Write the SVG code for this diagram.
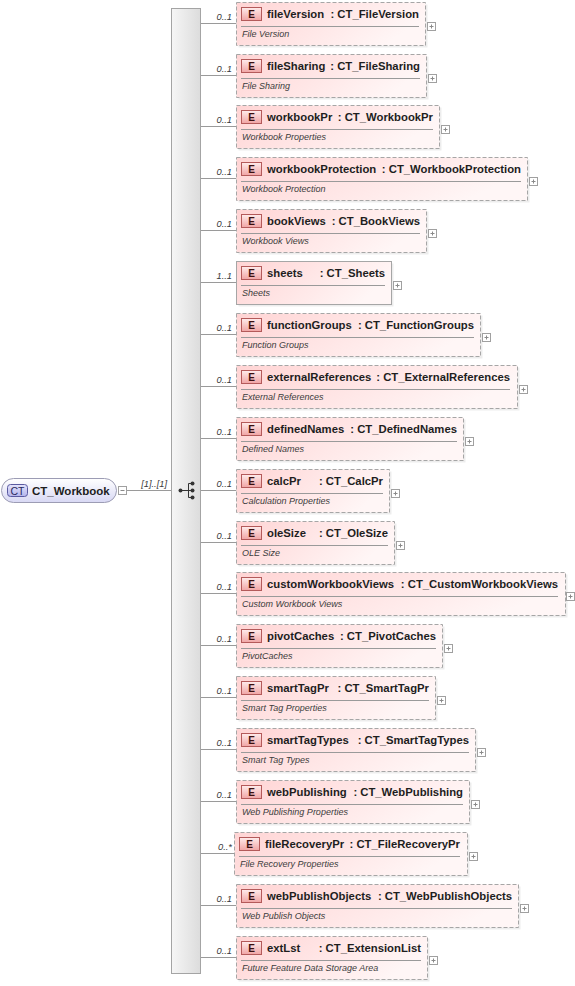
<svg xmlns="http://www.w3.org/2000/svg" width="575" height="986" viewBox="0 0 575 986">
<style>
text{font-family:"Liberation Sans",Arial,sans-serif}
.box{fill:url(#pk);stroke:#a6a6a6;stroke-width:1;stroke-dasharray:4 2}
.req{stroke-dasharray:none}
.sh{fill:#000;opacity:.07}
.badge{fill:url(#bg);stroke:#b45a5a;stroke-width:1}
.bE{font-size:10px;font-weight:bold;fill:#3a1010;text-anchor:middle}
.ttl{font-size:11.3px;font-weight:bold;fill:#1e1e1e}
.ty{text-anchor:end}
.sep{stroke:#9a9a9a;stroke-width:1}
.dsc{font-size:9px;font-style:italic;fill:#3c3c3c}
.pb{fill:#fff;stroke:#a0a0a0;stroke-width:1}
.pl{stroke:#8a8a8a;stroke-width:1;fill:none}
.con{stroke:#9a9a9a;stroke-width:1;fill:none}
.card{font-size:9.3px;font-style:italic;fill:#3a3a3a;text-anchor:end}
</style>
<defs>
<linearGradient id="pk" x1="0" y1="0" x2="1" y2="0.3">
<stop offset="0" stop-color="#ffd4d4"/>
<stop offset="1" stop-color="#fff6f6"/>
</linearGradient>
<linearGradient id="bg" x1="0" y1="0" x2="0" y2="1">
<stop offset="0" stop-color="#ffecec"/>
<stop offset="1" stop-color="#f0a4a4"/>
</linearGradient>
<linearGradient id="bar" x1="0" y1="0" x2="1" y2="0">
<stop offset="0" stop-color="#f6f6f6"/>
<stop offset="1" stop-color="#dcdcdc"/>
</linearGradient>
<linearGradient id="ctg" x1="0" y1="0" x2="0" y2="1">
<stop offset="0" stop-color="#ffffff"/>
<stop offset="1" stop-color="#d8d8f4"/>
</linearGradient>
<linearGradient id="ctb" x1="0" y1="0" x2="0" y2="1">
<stop offset="0" stop-color="#e4e4fc"/>
<stop offset="1" stop-color="#b4b4ec"/>
</linearGradient>
</defs>

<g id="connectors">
<line class="con" x1="126.5" y1="490.5" x2="171.5" y2="490.5"/>
<text class="card" x="167" y="487">[1]..[1]</text>
<path class="con" d="M200.5 23.5H236.5M200.5 75.5H236.5M200.5 126.5H236.5M200.5 178.5H236.5M200.5 230.5H236.5M200.5 282.5H236.5M200.5 334.5H236.5M200.5 386.5H236.5M200.5 438.5H236.5M200.5 490.5H236.5M200.5 542.5H236.5M200.5 593.5H236.5M200.5 645.5H236.5M200.5 697.5H236.5M200.5 749.5H236.5M200.5 801.5H236.5M200.5 853.5H234.5M200.5 905.5H236.5M200.5 957.5H236.5"/>
<text class="card" x="232" y="20">0..1</text>
<text class="card" x="232" y="72">0..1</text>
<text class="card" x="232" y="123">0..1</text>
<text class="card" x="232" y="175">0..1</text>
<text class="card" x="232" y="227">0..1</text>
<text class="card" x="232" y="279">1..1</text>
<text class="card" x="232" y="331">0..1</text>
<text class="card" x="232" y="383">0..1</text>
<text class="card" x="232" y="435">0..1</text>
<text class="card" x="232" y="487">0..1</text>
<text class="card" x="232" y="539">0..1</text>
<text class="card" x="232" y="590">0..1</text>
<text class="card" x="232" y="642">0..1</text>
<text class="card" x="232" y="694">0..1</text>
<text class="card" x="232" y="746">0..1</text>
<text class="card" x="232" y="798">0..1</text>
<text class="card" x="232" y="850">0..*</text>
<text class="card" x="232" y="902">0..1</text>
<text class="card" x="232" y="954">0..1</text>
</g>

<g id="n-CT_Workbook">
<rect x="1.5" y="478.5" width="115" height="24" rx="12" ry="12" fill="url(#ctg)" stroke="#9c9cb4" stroke-width="1"/>
<rect x="7.5" y="484.5" width="20" height="12" rx="3" ry="3" fill="url(#ctb)" stroke="#5a5aa0" stroke-width="1"/>
<text x="17.5" y="494.5" font-size="10.5" fill="#2a2a60" text-anchor="middle">CT</text>
<text x="32" y="495" font-size="11.5" font-weight="bold" fill="#1e1e1e">CT_Workbook</text>
<rect class="pb" x="118.5" y="486.5" width="8" height="8"/>
<path class="pl" d="M120.5 490.5h4"/>
</g>

<g id="sequence">
<rect x="171.5" y="8.5" width="29" height="965" fill="url(#bar)" stroke="#a4a4a4" stroke-width="1"/>
<path d="M180.5 490.5H188.5M188.5 483.5V497.5M188.5 483.5H192.5M188.5 490.5H192.5M188.5 497.5H192.5" stroke="#333" stroke-width="1" fill="none"/>
<circle cx="180.5" cy="490.5" r="2" fill="#333"/>
<circle cx="192.5" cy="483.5" r="2" fill="#333"/>
<circle cx="192.5" cy="490.5" r="2" fill="#333"/>
<circle cx="192.5" cy="497.5" r="2" fill="#333"/>
</g>

<g id="n-fileVersion" transform="translate(0,23.5)">
<rect class="sh" x="238.5" y="-19" width="189" height="43"/>
<rect class="box" x="236.5" y="-21" width="189" height="43"/>
<rect class="badge" x="241.5" y="-16" width="20" height="13"/>
<text class="bE" x="251.5" y="-5.5">E</text>
<text class="ttl" x="267" y="-6">fileVersion</text>
<text class="ttl ty" x="419" y="-6">: CT_FileVersion</text>
<line class="sep" x1="241" y1="3" x2="419" y2="3"/>
<text class="dsc" x="242" y="13">File Version</text>
<rect class="pb" x="427.5" y="-1" width="8" height="8"/>
<path class="pl" d="M429.5 3h4M431.5 1v4"/>
</g>

<g id="n-fileSharing" transform="translate(0,75.5)">
<rect class="sh" x="238.5" y="-19" width="190" height="43"/>
<rect class="box" x="236.5" y="-21" width="190" height="43"/>
<rect class="badge" x="241.5" y="-16" width="20" height="13"/>
<text class="bE" x="251.5" y="-5.5">E</text>
<text class="ttl" x="267" y="-6">fileSharing</text>
<text class="ttl ty" x="420" y="-6">: CT_FileSharing</text>
<line class="sep" x1="241" y1="3" x2="420" y2="3"/>
<text class="dsc" x="242" y="13">File Sharing</text>
<rect class="pb" x="428.5" y="-1" width="8" height="8"/>
<path class="pl" d="M430.5 3h4M432.5 1v4"/>
</g>

<g id="n-workbookPr" transform="translate(0,126.5)">
<rect class="sh" x="238.5" y="-19" width="203" height="43"/>
<rect class="box" x="236.5" y="-21" width="203" height="43"/>
<rect class="badge" x="241.5" y="-16" width="20" height="13"/>
<text class="bE" x="251.5" y="-5.5">E</text>
<text class="ttl" x="267" y="-6">workbookPr</text>
<text class="ttl ty" x="433" y="-6">: CT_WorkbookPr</text>
<line class="sep" x1="241" y1="3" x2="433" y2="3"/>
<text class="dsc" x="242" y="13">Workbook Properties</text>
<rect class="pb" x="441.5" y="-1" width="8" height="8"/>
<path class="pl" d="M443.5 3h4M445.5 1v4"/>
</g>

<g id="n-workbookProtection" transform="translate(0,178.5)">
<rect class="sh" x="238.5" y="-19" width="291" height="43"/>
<rect class="box" x="236.5" y="-21" width="291" height="43"/>
<rect class="badge" x="241.5" y="-16" width="20" height="13"/>
<text class="bE" x="251.5" y="-5.5">E</text>
<text class="ttl" x="267" y="-6">workbookProtection</text>
<text class="ttl ty" x="521" y="-6">: CT_WorkbookProtection</text>
<line class="sep" x1="241" y1="3" x2="521" y2="3"/>
<text class="dsc" x="242" y="13">Workbook Protection</text>
<rect class="pb" x="529.5" y="-1" width="8" height="8"/>
<path class="pl" d="M531.5 3h4M533.5 1v4"/>
</g>

<g id="n-bookViews" transform="translate(0,230.5)">
<rect class="sh" x="238.5" y="-19" width="190" height="43"/>
<rect class="box" x="236.5" y="-21" width="190" height="43"/>
<rect class="badge" x="241.5" y="-16" width="20" height="13"/>
<text class="bE" x="251.5" y="-5.5">E</text>
<text class="ttl" x="267" y="-6">bookViews</text>
<text class="ttl ty" x="420" y="-6">: CT_BookViews</text>
<line class="sep" x1="241" y1="3" x2="420" y2="3"/>
<text class="dsc" x="242" y="13">Workbook Views</text>
<rect class="pb" x="428.5" y="-1" width="8" height="8"/>
<path class="pl" d="M430.5 3h4M432.5 1v4"/>
</g>

<g id="n-sheets" transform="translate(0,282.5)">
<rect class="sh" x="238.5" y="-19" width="155" height="43"/>
<rect class="box req" x="236.5" y="-21" width="155" height="43"/>
<rect class="badge" x="241.5" y="-16" width="20" height="13"/>
<text class="bE" x="251.5" y="-5.5">E</text>
<text class="ttl" x="267" y="-6">sheets</text>
<text class="ttl ty" x="385" y="-6">: CT_Sheets</text>
<line class="sep" x1="241" y1="3" x2="385" y2="3"/>
<text class="dsc" x="242" y="13">Sheets</text>
<rect class="pb" x="393.5" y="-1" width="8" height="8"/>
<path class="pl" d="M395.5 3h4M397.5 1v4"/>
</g>

<g id="n-functionGroups" transform="translate(0,334.5)">
<rect class="sh" x="238.5" y="-19" width="244" height="43"/>
<rect class="box" x="236.5" y="-21" width="244" height="43"/>
<rect class="badge" x="241.5" y="-16" width="20" height="13"/>
<text class="bE" x="251.5" y="-5.5">E</text>
<text class="ttl" x="267" y="-6">functionGroups</text>
<text class="ttl ty" x="474" y="-6">: CT_FunctionGroups</text>
<line class="sep" x1="241" y1="3" x2="474" y2="3"/>
<text class="dsc" x="242" y="13">Function Groups</text>
<rect class="pb" x="482.5" y="-1" width="8" height="8"/>
<path class="pl" d="M484.5 3h4M486.5 1v4"/>
</g>

<g id="n-externalReferences" transform="translate(0,386.5)">
<rect class="sh" x="238.5" y="-19" width="281" height="43"/>
<rect class="box" x="236.5" y="-21" width="281" height="43"/>
<rect class="badge" x="241.5" y="-16" width="20" height="13"/>
<text class="bE" x="251.5" y="-5.5">E</text>
<text class="ttl" x="267" y="-6">externalReferences</text>
<text class="ttl ty" x="510" y="-6">: CT_ExternalReferences</text>
<line class="sep" x1="241" y1="3" x2="510" y2="3"/>
<text class="dsc" x="242" y="13">External References</text>
<rect class="pb" x="519.5" y="-1" width="8" height="8"/>
<path class="pl" d="M521.5 3h4M523.5 1v4"/>
</g>

<g id="n-definedNames" transform="translate(0,438.5)">
<rect class="sh" x="238.5" y="-19" width="227" height="43"/>
<rect class="box" x="236.5" y="-21" width="227" height="43"/>
<rect class="badge" x="241.5" y="-16" width="20" height="13"/>
<text class="bE" x="251.5" y="-5.5">E</text>
<text class="ttl" x="267" y="-6">definedNames</text>
<text class="ttl ty" x="457" y="-6">: CT_DefinedNames</text>
<line class="sep" x1="241" y1="3" x2="457" y2="3"/>
<text class="dsc" x="242" y="13">Defined Names</text>
<rect class="pb" x="465.5" y="-1" width="8" height="8"/>
<path class="pl" d="M467.5 3h4M469.5 1v4"/>
</g>

<g id="n-calcPr" transform="translate(0,490.5)">
<rect class="sh" x="238.5" y="-19" width="153" height="43"/>
<rect class="box" x="236.5" y="-21" width="153" height="43"/>
<rect class="badge" x="241.5" y="-16" width="20" height="13"/>
<text class="bE" x="251.5" y="-5.5">E</text>
<text class="ttl" x="267" y="-6">calcPr</text>
<text class="ttl ty" x="383" y="-6">: CT_CalcPr</text>
<line class="sep" x1="241" y1="3" x2="383" y2="3"/>
<text class="dsc" x="242" y="13">Calculation Properties</text>
<rect class="pb" x="391.5" y="-1" width="8" height="8"/>
<path class="pl" d="M393.5 3h4M395.5 1v4"/>
</g>

<g id="n-oleSize" transform="translate(0,542.5)">
<rect class="sh" x="238.5" y="-19" width="158" height="43"/>
<rect class="box" x="236.5" y="-21" width="158" height="43"/>
<rect class="badge" x="241.5" y="-16" width="20" height="13"/>
<text class="bE" x="251.5" y="-5.5">E</text>
<text class="ttl" x="267" y="-6">oleSize</text>
<text class="ttl ty" x="388" y="-6">: CT_OleSize</text>
<line class="sep" x1="241" y1="3" x2="388" y2="3"/>
<text class="dsc" x="242" y="13">OLE Size</text>
<rect class="pb" x="396.5" y="-1" width="8" height="8"/>
<path class="pl" d="M398.5 3h4M400.5 1v4"/>
</g>

<g id="n-customWorkbookViews" transform="translate(0,593.5)">
<rect class="sh" x="238.5" y="-19" width="329" height="43"/>
<rect class="box" x="236.5" y="-21" width="329" height="43"/>
<rect class="badge" x="241.5" y="-16" width="20" height="13"/>
<text class="bE" x="251.5" y="-5.5">E</text>
<text class="ttl" x="267" y="-6">customWorkbookViews</text>
<text class="ttl ty" x="558" y="-6">: CT_CustomWorkbookViews</text>
<line class="sep" x1="241" y1="3" x2="558" y2="3"/>
<text class="dsc" x="242" y="13">Custom Workbook Views</text>
<rect class="pb" x="566.5" y="-1" width="8" height="8"/>
<path class="pl" d="M568.5 3h4M570.5 1v4"/>
</g>

<g id="n-pivotCaches" transform="translate(0,645.5)">
<rect class="sh" x="238.5" y="-19" width="206" height="43"/>
<rect class="box" x="236.5" y="-21" width="206" height="43"/>
<rect class="badge" x="241.5" y="-16" width="20" height="13"/>
<text class="bE" x="251.5" y="-5.5">E</text>
<text class="ttl" x="267" y="-6">pivotCaches</text>
<text class="ttl ty" x="436" y="-6">: CT_PivotCaches</text>
<line class="sep" x1="241" y1="3" x2="436" y2="3"/>
<text class="dsc" x="242" y="13">PivotCaches</text>
<rect class="pb" x="444.5" y="-1" width="8" height="8"/>
<path class="pl" d="M446.5 3h4M448.5 1v4"/>
</g>

<g id="n-smartTagPr" transform="translate(0,697.5)">
<rect class="sh" x="238.5" y="-19" width="199" height="43"/>
<rect class="box" x="236.5" y="-21" width="199" height="43"/>
<rect class="badge" x="241.5" y="-16" width="20" height="13"/>
<text class="bE" x="251.5" y="-5.5">E</text>
<text class="ttl" x="267" y="-6">smartTagPr</text>
<text class="ttl ty" x="429" y="-6">: CT_SmartTagPr</text>
<line class="sep" x1="241" y1="3" x2="429" y2="3"/>
<text class="dsc" x="242" y="13">Smart Tag Properties</text>
<rect class="pb" x="437.5" y="-1" width="8" height="8"/>
<path class="pl" d="M439.5 3h4M441.5 1v4"/>
</g>

<g id="n-smartTagTypes" transform="translate(0,749.5)">
<rect class="sh" x="238.5" y="-19" width="239" height="43"/>
<rect class="box" x="236.5" y="-21" width="239" height="43"/>
<rect class="badge" x="241.5" y="-16" width="20" height="13"/>
<text class="bE" x="251.5" y="-5.5">E</text>
<text class="ttl" x="267" y="-6">smartTagTypes</text>
<text class="ttl ty" x="469" y="-6">: CT_SmartTagTypes</text>
<line class="sep" x1="241" y1="3" x2="469" y2="3"/>
<text class="dsc" x="242" y="13">Smart Tag Types</text>
<rect class="pb" x="477.5" y="-1" width="8" height="8"/>
<path class="pl" d="M479.5 3h4M481.5 1v4"/>
</g>

<g id="n-webPublishing" transform="translate(0,801.5)">
<rect class="sh" x="238.5" y="-19" width="233" height="43"/>
<rect class="box" x="236.5" y="-21" width="233" height="43"/>
<rect class="badge" x="241.5" y="-16" width="20" height="13"/>
<text class="bE" x="251.5" y="-5.5">E</text>
<text class="ttl" x="267" y="-6">webPublishing</text>
<text class="ttl ty" x="463" y="-6">: CT_WebPublishing</text>
<line class="sep" x1="241" y1="3" x2="463" y2="3"/>
<text class="dsc" x="242" y="13">Web Publishing Properties</text>
<rect class="pb" x="471.5" y="-1" width="8" height="8"/>
<path class="pl" d="M473.5 3h4M475.5 1v4"/>
</g>

<g id="n-fileRecoveryPr" transform="translate(0,853.5)">
<rect class="sh" x="236.5" y="-19" width="233" height="43"/>
<rect class="box" x="234.5" y="-21" width="233" height="43"/>
<rect class="badge" x="239.5" y="-16" width="20" height="13"/>
<text class="bE" x="249.5" y="-5.5">E</text>
<text class="ttl" x="265" y="-6">fileRecoveryPr</text>
<text class="ttl ty" x="460" y="-6">: CT_FileRecoveryPr</text>
<line class="sep" x1="239" y1="3" x2="460" y2="3"/>
<text class="dsc" x="240" y="13">File Recovery Properties</text>
<rect class="pb" x="469.5" y="-1" width="8" height="8"/>
<path class="pl" d="M471.5 3h4M473.5 1v4"/>
</g>

<g id="n-webPublishObjects" transform="translate(0,905.5)">
<rect class="sh" x="238.5" y="-19" width="282" height="43"/>
<rect class="box" x="236.5" y="-21" width="282" height="43"/>
<rect class="badge" x="241.5" y="-16" width="20" height="13"/>
<text class="bE" x="251.5" y="-5.5">E</text>
<text class="ttl" x="267" y="-6">webPublishObjects</text>
<text class="ttl ty" x="512" y="-6">: CT_WebPublishObjects</text>
<line class="sep" x1="241" y1="3" x2="512" y2="3"/>
<text class="dsc" x="242" y="13">Web Publish Objects</text>
<rect class="pb" x="520.5" y="-1" width="8" height="8"/>
<path class="pl" d="M522.5 3h4M524.5 1v4"/>
</g>

<g id="n-extLst" transform="translate(0,957.5)">
<rect class="sh" x="238.5" y="-19" width="191" height="43"/>
<rect class="box" x="236.5" y="-21" width="191" height="43"/>
<rect class="badge" x="241.5" y="-16" width="20" height="13"/>
<text class="bE" x="251.5" y="-5.5">E</text>
<text class="ttl" x="267" y="-6">extLst</text>
<text class="ttl ty" x="421" y="-6">: CT_ExtensionList</text>
<line class="sep" x1="241" y1="3" x2="421" y2="3"/>
<text class="dsc" x="242" y="13">Future Feature Data Storage Area</text>
<rect class="pb" x="429.5" y="-1" width="8" height="8"/>
<path class="pl" d="M431.5 3h4M433.5 1v4"/>
</g>
</svg>
